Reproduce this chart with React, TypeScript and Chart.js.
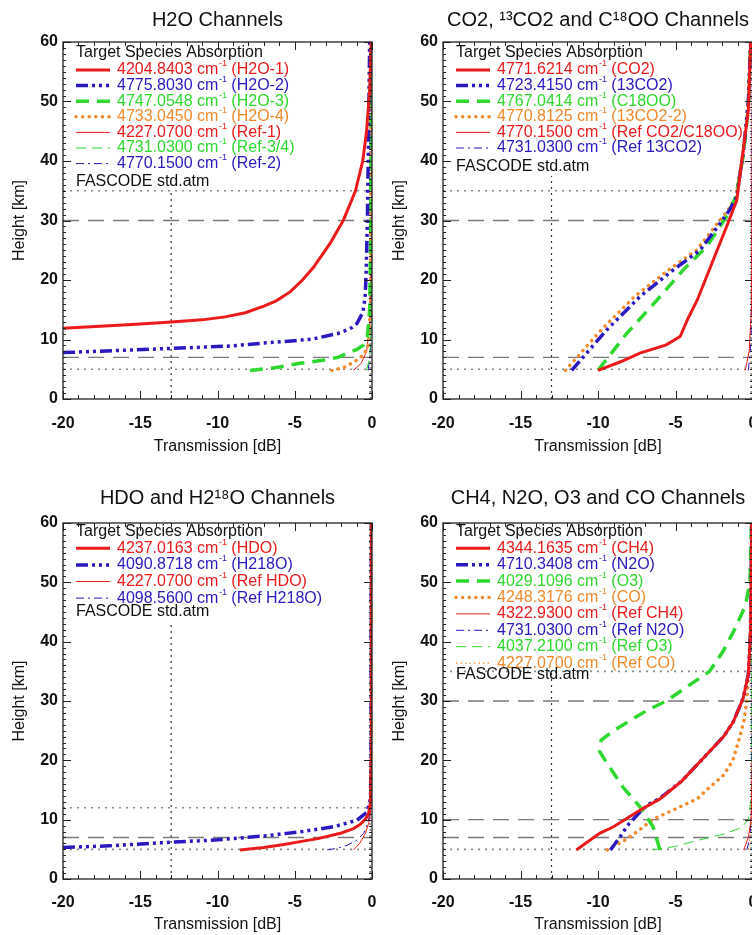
import React, { useEffect, useRef } from 'react';
import { Chart, registerables } from 'chart.js';
Chart.register(...registerables);

const FONT = '"Liberation Sans", Arial, Helvetica, sans-serif';

// ---------- axis ticks ----------
const X_TICKS = [-20, -15, -10, -5, 0];
const Y_TICKS = [0, 10, 20, 30, 40, 50, 60];
const MARK_T = -13; // vertical dotted marker
const ZERO_T = -0.12; // dotted line near 0 dB

// ---------- Panel 1: H2O ----------
const H2O1_T = [-20, -17, -15, -13, -11, -9.5, -8.2, -7, -6.2, -5.3, -4.5, -3.8, -2.7, -1.84, -1.07, -0.6, -0.35, -0.15, -0.05];
const H2O1_H = [11.9, 12.3, 12.6, 12.95, 13.3, 13.8, 14.5, 15.6, 16.5, 18, 20, 22.1, 26.2, 30.1, 35, 40, 45, 52, 60];
const H2O2_T = [-20, -16, -13, -9.2, -7, -5, -3.8, -2.05, -1.3, -0.97, -0.6, -0.45, -0.38, -0.3, -0.22, -0.15];
const H2O2_H = [7.8, 8.2, 8.5, 8.9, 9.4, 9.8, 10.1, 11.1, 12, 12.7, 14.5, 17, 21, 30, 45, 60];
const H2O3_T = [-7.9, -6.4, -4.65, -3.2, -2.2, -1.6, -1.0, -0.54, -0.3, -0.15, -0.08, -0.05];
const H2O3_H = [4.8, 5.2, 6.0, 6.5, 7.0, 7.7, 8.3, 9.1, 10.5, 15, 30, 60];
const H2O4_T = [-2.6, -1.8, -1.0, -0.5, -0.25, -0.1, -0.05];
const H2O4_H = [4.8, 5.3, 6.5, 7.5, 9, 15, 60];
const REF1_T = [-1.2, -0.7, -0.35, -0.15, -0.05, -0.02];
const REF1_H = [4.8, 6, 8, 12, 25, 60];
const REF34_T = [-0.35, -0.15, -0.06, -0.02];
const REF34_H = [4.8, 7, 12, 60];
const REF2_T = [-0.25, -0.1, -0.04, -0.01];
const REF2_H = [4.8, 8, 15, 60];
const P1_WN = ['4204.8403', '4775.8030', '4747.0548', '4733.0450', '4227.0700', '4731.0300', '4770.1500'];
const P1_NAMES = ['H2O-1', 'H2O-2', 'H2O-3', 'H2O-4', 'Ref-1', 'Ref-3/4', 'Ref-2'];
const P1_DASHED_H = [30, 7];
const P1_DOTTED_H = [35, 5];

// ---------- Panel 2: CO2 ----------
const CO2_T = [-10.0, -8.5, -7.3, -5.6, -4.7, -4.2, -3.6, -2.56, -1.7, -1.05, -0.63, -0.3, -0.15];
const CO2_H = [4.8, 6.3, 7.7, 9.1, 10.5, 13.5, 16.6, 23.4, 29, 33.4, 41.8, 48.6, 60];
const C13O2_T = [-11.7, -9.44, -7.3, -5.14, -3.42, -2.13, -1.5, -1.05, -0.6, -0.3, -0.15];
const C13O2_H = [4.8, 11.6, 17.2, 21.7, 25, 29.5, 31.8, 34, 42, 50, 60];
const C18OO_T = [-10.0, -8.15, -6.2, -4.5, -3.0, -1.72, -1.1, -0.62, -0.3, -0.15];
const C18OO_H = [4.8, 11.0, 16.6, 21.7, 25.6, 30.6, 34, 41, 49, 60];
const C13O2B_T = [-12.1, -9.8, -7.65, -5.45, -3.65, -2.3, -1.6, -1.1, -0.62, -0.3, -0.15];
const C13O2B_H = [4.8, 11.6, 17.2, 21.7, 25, 29.5, 31.8, 34, 42, 50, 60];
const REFCO2_T = [-0.5, -0.25, -0.1, -0.03];
const REFCO2_H = [4.8, 8, 15, 60];
const REF13_T = [-0.3, -0.12, -0.03];
const REF13_H = [4.8, 10, 60];
const P2_WN = ['4771.6214', '4723.4150', '4767.0414', '4770.8125', '4770.1500', '4731.0300'];
const P2_NAMES = ['CO2', '13CO2', 'C18OO', '13CO2-2', 'Ref CO2/C18OO', 'Ref 13CO2'];
const P2_DASHED_H = [30, 7];
const P2_DOTTED_H = [35, 5];

// ---------- Panel 3: HDO ----------
const HDO_T = [-8.54, -7, -5.7, -4.65, -3.5, -2.05, -1.2, -0.76, -0.4, -0.22, -0.1, -0.06, -0.04];
const HDO_H = [4.9, 5.3, 5.8, 6.3, 6.8, 7.7, 8.5, 9.2, 10.2, 11.0, 13, 20, 60];
const H218O_T = [-20, -17, -13, -10, -6.8, -4.5, -2.5, -0.97, -0.32, -0.1, -0.06, -0.04];
const H218O_H = [5.3, 5.6, 6.2, 6.6, 7.3, 8.0, 8.8, 9.9, 11.3, 13.5, 20, 60];
const REFHDO_T = [-1.2, -0.8, -0.43, -0.2, -0.1, -0.05, -0.02];
const REFHDO_H = [4.9, 6, 7.7, 9.5, 11, 15, 60];
const REFH218O_T = [-2.9, -2.2, -1.6, -1.0, -0.54, -0.25, -0.1, -0.03];
const REFH218O_H = [4.9, 5.2, 5.7, 6.5, 7.7, 9.5, 12, 60];
const P3_WN = ['4237.0163', '4090.8718', '4227.0700', '4098.5600'];
const P3_NAMES = ['HDO', 'H218O', 'Ref HDO', 'Ref H218O'];
const P3_DASHED_H = [7];
const P3_DOTTED_H = [12, 5];

// ---------- Panel 4: CH4, N2O, O3, CO ----------
const CH4_T = [-11.4, -9.9, -9.0, -7.3, -6, -4.6, -2.8, -1.9, -1.27, -0.63, -0.3, -0.15, -0.08];
const CH4_H = [4.9, 7.7, 8.8, 11.6, 13.5, 16.5, 21.5, 24, 26.5, 30.5, 34.5, 42, 60];
const N2O_T = [-9.2, -8.6, -8.1, -7.4, -6.8, -6, -4.6, -2.8, -1.9, -1.27, -0.63, -0.3, -0.15, -0.08];
const N2O_H = [4.9, 7, 9, 11, 12.5, 13.6, 16.5, 21.5, 24, 26.5, 30.5, 34.5, 42, 60];
const O3_T = [-6.0, -6.45, -7.3, -8.4, -9.44, -9.9, -9.8, -9.0, -6.85, -5.6, -4.2, -2.8, -1.9, -1.2, -0.5, -0.2, -0.1];
const O3_H = [4.9, 8.8, 12.2, 15.5, 19.6, 21.5, 23.4, 25, 28.4, 30, 32.5, 35, 38.5, 42, 46, 50, 60];
const CO_T = [-9.4, -8.3, -7.3, -6.5, -5, -3.6, -3.0, -1.9, -1.3, -0.9, -0.6, -0.4, -0.25, -0.15, -0.1];
const CO_H = [4.9, 6.5, 8.3, 10, 11.8, 13.5, 15, 17.5, 20, 23.5, 26.5, 30, 36, 45, 60];
const REFCH4_T = [-0.6, -0.3, -0.12, -0.05, -0.02];
const REFCH4_H = [4.9, 7, 10, 20, 60];
const REFN2O_T = [-0.4, -0.2, -0.08, -0.02];
const REFN2O_H = [4.9, 7, 12, 60];
const REFO3_T = [-6.5, -5, -3.6, -2, -0.8, -0.3, -0.1, -0.05];
const REFO3_H = [4.9, 5.5, 6.5, 7.5, 8.6, 10, 14, 60];
const REFCO_T = [-0.3, -0.1, -0.03];
const REFCO_H = [4.9, 9, 60];
const P4_WN = ['4344.1635', '4710.3408', '4029.1096', '4248.3176', '4322.9300', '4731.0300', '4037.2100', '4227.0700'];
const P4_NAMES = ['CH4', 'N2O', 'O3', 'CO', 'Ref CH4', 'Ref N2O', 'Ref O3', 'Ref CO'];
const P4_DASHED_H = [30, 10, 7];
const P4_DOTTED_H = [35, 5];

// ---------- styles ----------
const RED = '#ec1a1a';
const BLUE = '#2a18c0';
const GREEN = '#2ed82e';
const ORANGE = '#f08a2a';

type Sty = { w: number; dash: number[]; cap: CanvasLineCap };
const S_SOLID: Sty = { w: 3, dash: [], cap: 'butt' };
const S_DDD: Sty = { w: 3.5, dash: [12, 4, 3, 4, 3, 4, 3, 4], cap: 'butt' };
const S_DASH: Sty = { w: 3.5, dash: [13, 8], cap: 'butt' };
const S_DOT: Sty = { w: 3.5, dash: [0.1, 6.5], cap: 'round' };
const T_SOLID: Sty = { w: 1, dash: [], cap: 'butt' };
const T_DASH: Sty = { w: 1, dash: [10, 6], cap: 'butt' };
const T_DASHDOT: Sty = { w: 1, dash: [8, 4, 2, 4], cap: 'butt' };
const T_DOT: Sty = { w: 1.2, dash: [1.5, 3], cap: 'butt' };

type Curve = { t: number[]; h: number[]; color: string; sty: Sty };
type Layout = {
  left: number; top: number; w: number; h: number; padRight: number;
  titlePad: { top: number; bottom: number }; xAxisH: number; xTickPad: number; xTitlePad: number;
  targetY: number; firstY: number; step: number; fascodeY: number; boxBottom: number;
};
type PanelCfg = {
  title: string; curves: Curve[]; wn: string[]; names: string[];
  dashedH: number[]; dottedH: number[]; lay: Layout;
};

const TOP_LAY = { h: 460, padRight: 20, titlePad: { top: 8, bottom: 10 }, xAxisH: 61, xTickPad: 14.7, xTitlePad: 3.4 };
const BOT_LAY = { h: 475, padRight: 20, titlePad: { top: 26, bottom: 13 }, xAxisH: 56, xTickPad: 14, xTitlePad: 0.4 };

const PANELS: PanelCfg[] = [
  {
    title: 'H2O Channels',
    curves: [
      { t: H2O1_T, h: H2O1_H, color: RED, sty: S_SOLID },
      { t: H2O2_T, h: H2O2_H, color: BLUE, sty: S_DDD },
      { t: H2O3_T, h: H2O3_H, color: GREEN, sty: S_DASH },
      { t: H2O4_T, h: H2O4_H, color: ORANGE, sty: S_DOT },
      { t: REF1_T, h: REF1_H, color: RED, sty: T_SOLID },
      { t: REF34_T, h: REF34_H, color: GREEN, sty: T_DASH },
      { t: REF2_T, h: REF2_H, color: BLUE, sty: T_DASHDOT },
    ],
    wn: P1_WN, names: P1_NAMES, dashedH: P1_DASHED_H, dottedH: P1_DOTTED_H,
    lay: { left: 0, top: 0, w: 392, ...TOP_LAY, targetY: 53, firstY: 70, step: 15.6, fascodeY: 182, boxBottom: 189 },
  },
  {
    title: 'CO2, \u00B9\u00B3CO2 and C\u00B9\u2078OO Channels',
    curves: [
      { t: CO2_T, h: CO2_H, color: RED, sty: S_SOLID },
      { t: C13O2_T, h: C13O2_H, color: BLUE, sty: S_DDD },
      { t: C18OO_T, h: C18OO_H, color: GREEN, sty: S_DASH },
      { t: C13O2B_T, h: C13O2B_H, color: ORANGE, sty: S_DOT },
      { t: REFCO2_T, h: REFCO2_H, color: RED, sty: T_SOLID },
      { t: REF13_T, h: REF13_H, color: BLUE, sty: T_DASHDOT },
    ],
    wn: P2_WN, names: P2_NAMES, dashedH: P2_DASHED_H, dottedH: P2_DOTTED_H,
    lay: { left: 380, top: 0, w: 393, ...TOP_LAY, targetY: 53, firstY: 70, step: 15.6, fascodeY: 167, boxBottom: 176 },
  },
  {
    title: 'HDO and H2\u00B9\u2078O Channels',
    curves: [
      { t: HDO_T, h: HDO_H, color: RED, sty: S_SOLID },
      { t: H218O_T, h: H218O_H, color: BLUE, sty: S_DDD },
      { t: REFHDO_T, h: REFHDO_H, color: RED, sty: T_SOLID },
      { t: REFH218O_T, h: REFH218O_H, color: BLUE, sty: T_DASHDOT },
    ],
    wn: P3_WN, names: P3_NAMES, dashedH: P3_DASHED_H, dottedH: P3_DOTTED_H,
    lay: { left: 0, top: 460, w: 392, ...BOT_LAY, targetY: 72, firstY: 88.3, step: 16.6, fascodeY: 152, boxBottom: 161 },
  },
  {
    title: 'CH4, N2O, O3 and CO Channels',
    curves: [
      { t: CH4_T, h: CH4_H, color: RED, sty: S_SOLID },
      { t: N2O_T, h: N2O_H, color: BLUE, sty: S_DDD },
      { t: O3_T, h: O3_H, color: GREEN, sty: S_DASH },
      { t: CO_T, h: CO_H, color: ORANGE, sty: S_DOT },
      { t: REFCH4_T, h: REFCH4_H, color: RED, sty: T_SOLID },
      { t: REFN2O_T, h: REFN2O_H, color: BLUE, sty: T_DASHDOT },
      { t: REFO3_T, h: REFO3_H, color: GREEN, sty: T_DASH },
      { t: REFCO_T, h: REFCO_H, color: ORANGE, sty: T_DOT },
    ],
    wn: P4_WN, names: P4_NAMES, dashedH: P4_DASHED_H, dottedH: P4_DOTTED_H,
    lay: { left: 380, top: 460, w: 393, ...BOT_LAY, targetY: 72, firstY: 88.3, step: 16.4, fascodeY: 215, boxBottom: 209 },
  },
];

function measureRows(ctx: CanvasRenderingContext2D, cfg: PanelCfg) {
  return cfg.curves.map((c, i) => {
    ctx.font = `16px ${FONT}`;
    const t1 = `${cfg.wn[i]} cm`;
    const w1 = ctx.measureText(t1).width + 0.5;
    ctx.font = `9px ${FONT}`;
    const w2 = ctx.measureText('-1').width;
    ctx.font = `16px ${FONT}`;
    const t3 = ` (${cfg.names[i]})`;
    const w3 = ctx.measureText(t3).width;
    return { t1, w1, w2, t3, w3 };
  });
}

function makeDecor(cfg: PanelCfg) {
  return {
    id: 'decor',
    // opaque legend box: drawn after the reference lines, before the curves
    beforeDatasetDraw(chart: any, args: any) {
      if (args.index !== cfg.curves.length - 1) return;
      const { ctx, chartArea: a } = chart;
      const L = cfg.lay;
      ctx.save();
      const x0 = a.left + 13;
      const xt = a.left + 54;
      const rows = measureRows(ctx, cfg);
      ctx.font = `16px ${FONT}`;
      let maxRight = x0 + ctx.measureText('Target Species Absorption').width;
      rows.forEach((r) => { maxRight = Math.max(maxRight, xt + r.w1 + r.w2 + r.w3); });
      ctx.fillStyle = '#ffffff';
      ctx.fillRect(a.left + 1, a.top + 1, maxRight + 3 - a.left, L.boxBottom - a.top - 1);
      ctx.restore();
    },
    afterDatasetsDraw(chart: any) {
      const { ctx, chartArea: a, scales } = chart;
      const xs = scales.x;
      const ys = scales.y;
      const L = cfg.lay;
      ctx.save();
      const x0 = a.left + 13;
      const xt = a.left + 54;
      const rows = measureRows(ctx, cfg);

      // legend
      ctx.textBaseline = 'middle';
      ctx.textAlign = 'left';
      ctx.font = `16px ${FONT}`;
      ctx.fillStyle = '#111';
      ctx.fillText('Target Species Absorption', x0, L.targetY);
      cfg.curves.forEach((c, i) => {
        const y = L.firstY + i * L.step;
        const r = rows[i];
        ctx.strokeStyle = c.color;
        ctx.lineWidth = c.sty.w;
        ctx.lineCap = c.sty.cap;
        ctx.setLineDash(c.sty.dash);
        ctx.beginPath();
        ctx.moveTo(x0, y);
        ctx.lineTo(x0 + 34, y);
        ctx.stroke();
        ctx.setLineDash([]);
        ctx.lineCap = 'butt';
        ctx.fillStyle = c.color;
        let x = xt;
        ctx.font = `16px ${FONT}`;
        ctx.fillText(r.t1, x, y);
        x += r.w1;
        ctx.font = `9px ${FONT}`;
        ctx.fillText('-1', x, y - 6);
        x += r.w2;
        ctx.font = `16px ${FONT}`;
        ctx.fillText(r.t3, x, y);
      });
      ctx.fillStyle = '#111';
      ctx.font = `16px ${FONT}`;
      ctx.fillText('FASCODE std.atm', x0, L.fascodeY);

      // tick marks (inward) and frame
      ctx.strokeStyle = '#222';
      ctx.lineWidth = 1;
      ctx.setLineDash([]);
      ctx.beginPath();
      for (let v = -20; v <= 0; v += 1) {
        const px = Math.round(xs.getPixelForValue(v)) + 0.5;
        const len = v % 5 === 0 ? 8 : 4;
        ctx.moveTo(px, a.bottom); ctx.lineTo(px, a.bottom - len);
        ctx.moveTo(px, a.top); ctx.lineTo(px, a.top + len);
      }
      for (let v = 0; v <= 60; v += 1) {
        const py = Math.round(ys.getPixelForValue(v)) + 0.5;
        const len = v % 10 === 0 ? 8 : 3;
        ctx.moveTo(a.left, py); ctx.lineTo(a.left + len, py);
        ctx.moveTo(a.right, py); ctx.lineTo(a.right - len, py);
      }
      ctx.stroke();
      ctx.lineWidth = 1.3;
      ctx.strokeRect(a.left, a.top, a.right - a.left, a.bottom - a.top);
      ctx.restore();
    },
  };
}

function line(data: { x: number; y: number }[], color: string, w: number, dash: number[], cap: CanvasLineCap, order: number) {
  return {
    data, showLine: true, borderColor: color, backgroundColor: color, borderWidth: w,
    borderDash: dash, borderCapStyle: cap, pointRadius: 0, pointHoverRadius: 0,
    fill: false, tension: 0, order,
  };
}

function Panel({ cfg }: { cfg: PanelCfg }) {
  const ref = useRef<HTMLCanvasElement>(null);
  useEffect(() => {
    const L = cfg.lay;
    const datasets: any[] = cfg.curves.map((c) =>
      line(c.t.map((t, i) => ({ x: t, y: c.h[i] })), c.color, c.sty.w, c.sty.dash, c.sty.cap, 0)
    );
    cfg.dashedH.forEach((h) => datasets.push(line([{ x: -20, y: h }, { x: 0, y: h }], '#7a7a7a', 1.4, [16, 9], 'butt', 10)));
    cfg.dottedH.forEach((h) => datasets.push(line([{ x: -20, y: h }, { x: 0, y: h }], '#8a8a8a', 1.6, [2, 5], 'butt', 10)));
    datasets.push(line([{ x: MARK_T, y: 0 }, { x: MARK_T, y: 60 }], '#333', 1.2, [2, 4], 'butt', 10));
    datasets.push(line([{ x: ZERO_T, y: 0 }, { x: ZERO_T, y: 60 }], '#777', 1.2, [2, 4], 'butt', 10));

    const chart = new Chart(ref.current as HTMLCanvasElement, {
      type: 'scatter',
      data: { datasets },
      plugins: [makeDecor(cfg)],
      options: {
        responsive: false,
        animation: false,
        devicePixelRatio: 1,
        events: [],
        layout: { padding: { left: 0, right: L.padRight, top: 0, bottom: 0 } },
        plugins: {
          legend: { display: false },
          tooltip: { enabled: false },
          title: {
            display: true, text: cfg.title, fullSize: false, color: '#111',
            font: { family: FONT, size: 20, weight: 'normal' }, padding: L.titlePad,
          },
        },
        scales: {
          x: {
            type: 'linear', position: 'bottom', min: -20, max: 0,
            afterBuildTicks: (s: any) => { s.ticks = X_TICKS.map((v) => ({ value: v })); },
            afterFit: (s: any) => { s.height = L.xAxisH; },
            ticks: {
              autoSkip: false, maxRotation: 0, color: '#111', padding: L.xTickPad,
              font: { family: FONT, size: 16, weight: 'bold' }, callback: (v: any) => String(v),
            },
            grid: { display: false, drawTicks: false },
            border: { display: false },
            title: {
              display: true, text: 'Transmission [dB]', color: '#111',
              font: { family: FONT, size: 16 }, padding: { top: 0, bottom: L.xTitlePad },
            },
          },
          y: {
            type: 'linear', position: 'left', min: 0, max: 60,
            afterBuildTicks: (s: any) => { s.ticks = Y_TICKS.map((v) => ({ value: v })); },
            afterFit: (s: any) => { s.width = 63; },
            ticks: {
              autoSkip: false, color: '#111', padding: 5,
              font: { family: FONT, size: 16, weight: 'bold' }, callback: (v: any) => String(v),
            },
            grid: { display: false, drawTicks: false },
            border: { display: false },
            title: {
              display: true, text: 'Height [km]', color: '#111',
              font: { family: FONT, size: 16 }, padding: { top: 10.4, bottom: 0 },
            },
          },
        },
      } as any,
    });
    return () => chart.destroy();
  }, [cfg]);
  const L = cfg.lay;
  return (
    <canvas
      ref={ref}
      width={L.w}
      height={L.h}
      style={{ position: 'absolute', left: L.left, top: L.top, width: L.w, height: L.h, display: 'block' }}
    />
  );
}

export default function App() {
  return (
    <div style={{ position: 'fixed', left: 0, top: 0, width: 752, height: 935, overflow: 'hidden', background: '#fff' }}>
      {PANELS.map((p, i) => (
        <Panel key={i} cfg={p} />
      ))}
    </div>
  );
}
